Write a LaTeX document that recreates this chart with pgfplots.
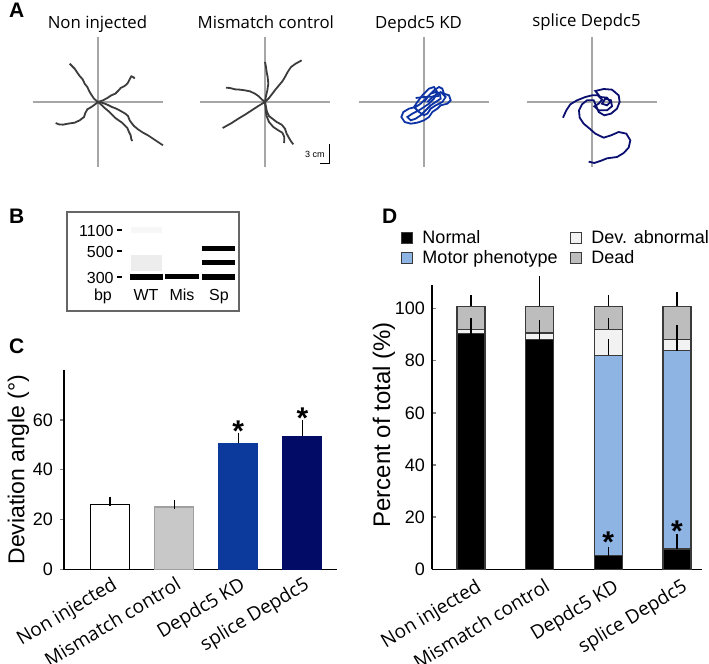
\documentclass[border=0pt]{standalone}
\usepackage{fontspec}
\setmainfont{Liberation Sans}
\newfontfamily\osans{Open Sans}
\usepackage{pgfplots}
\pgfplotsset{compat=1.18}

\definecolor{cross}{HTML}{A6A6A6}
\definecolor{trk}{HTML}{3C3C3C}
\definecolor{kdblue}{HTML}{0C33A3}
\definecolor{spblue}{HTML}{0A0F70}
\definecolor{cgray}{HTML}{C8C8C8}
\definecolor{cblue}{HTML}{0B3A9C}
\definecolor{cnavy}{HTML}{020B66}
\definecolor{motor}{HTML}{8DB4E2}
\definecolor{devab}{HTML}{F2F2F2}
\definecolor{dead}{HTML}{BDBDBD}
\definecolor{edge}{HTML}{3A3A3A}

\pgfplotsset{
  traj/.style={scale only axis, width=65pt, height=65pt, anchor=center,
    xmin=-195, xmax=195, ymin=-195, ymax=195, axis lines=center,
    axis line style={-, draw=cross, line width=0.6pt},
    xtick=\empty, ytick=\empty, clip=false},
  catlab/.style={rotate=31, anchor=north east, inner sep=0pt,
    font=\osans\fontsize{9.5}{11}\selectfont},
  cbar/.style={ybar, bar width=19.5pt, bar shift=0pt, line width=0.6pt,
    error bars/.cd, y dir=plus, y explicit,
    error bar style={black, line width=0.7pt},
    error mark options={black, line width=0.7pt, mark size=2.3pt}},
  dbar/.style={ybar, bar width=14pt, bar shift=0pt, draw=edge, line width=0.6pt, forget plot},
  derr/.style={draw=none, forget plot,
    error bars/.cd, y dir=plus, y explicit,
    error bar style={draw=black, line width=0.7pt},
    error mark options={draw=black, line width=0.7pt, mark size=2.5pt}},
}

\begin{document}
\begin{tikzpicture}
\useasboundingbox (0,0) rectangle (354.5pt,-332pt);

% ---------------- panel A: swimming traces
\node[anchor=base west, font=\bfseries\fontsize{10.5}{11}\selectfont] at (1pt,-9pt) {A};
\begin{scope}[font=\osans\fontsize{8.4}{10}\selectfont]
\node[anchor=base] at (48.75pt,-14pt) {Non injected};
\node[anchor=base] at (132.9pt,-14pt) {Mismatch control};
\node[anchor=base] at (209.25pt,-14.5pt) {Depdc5 KD};
\node[anchor=base] at (293.3pt,-13pt) {splice Depdc5};
\end{scope}

\begin{axis}[traj, at={(49pt,-51pt)}]
\addplot[trk, line width=0.9pt] coordinates {(0,0)(-12,10)(-20,22)(-26,32)(-32,45)(-40,55)(-46,68)(-55,78)(-62,88)(-70,100)(-76,106)(-85,115)};
\addplot[trk, line width=0.9pt] coordinates {(0,0)(15,5)(28,12)(40,20)(52,25)(62,35)(68,42)(80,48)(88,55)(92,62)(96,70)(100,77)(107,74)(110,70)};
\addplot[trk, line width=0.9pt] coordinates {(0,0)(-10,-8)(-20,-15)(-32,-22)(-38,-33)(-42,-45)(-55,-55)(-70,-62)(-90,-65)(-105,-68)(-118,-67)(-127,-63)};
\addplot[trk, line width=0.9pt] coordinates {(0,0)(15,-3)(28,-8)(42,-15)(55,-20)(70,-28)(82,-35)(90,-42)(95,-55)(100,-62)(108,-72)(120,-82)(135,-92)(150,-100)(165,-110)(180,-120)(195,-130)};
\addplot[trk, line width=0.9pt] coordinates {(0,0)(12,-10)(20,-18)(32,-28)(42,-38)(52,-48)(62,-55)(72,-62)(80,-70)(88,-78)(92,-88)(98,-100)(100,-112)(103,-117)};
\end{axis}

\begin{axis}[traj, at={(132.5pt,-51pt)}]
\addplot[trk, line width=0.9pt] coordinates {(0,0)(3,18)(7,35)(10,55)(8,75)(5,90)(3,105)(0,120)};
\addplot[trk, line width=0.9pt] coordinates {(0,0)(12,12)(22,25)(32,38)(42,50)(52,62)(60,75)(68,90)(78,105)(92,115)(110,125)};
\addplot[trk, line width=0.9pt] coordinates {(0,0)(-10,8)(-20,18)(-30,25)(-45,32)(-60,35)(-75,37)(-90,38)(-105,42)(-117,43)};
\addplot[trk, line width=0.9pt] coordinates {(0,0)(-20,-12)(-40,-25)(-60,-38)(-80,-50)(-100,-63)(-127,-78)};
\addplot[trk, line width=0.9pt] coordinates {(0,0)(3,-15)(6,-30)(12,-42)(22,-50)(35,-60)(50,-68)(60,-80)(65,-95)(72,-108)(78,-118)(85,-127)};
\addplot[trk, line width=0.9pt] coordinates {(0,0)(2,-20)(4,-40)(12,-60)(25,-75)(40,-85)(52,-92)(58,-105)(58,-115)(57,-123)};
% scale bar
\addplot[black, line width=0.5pt] coordinates {(165,-185)(192,-185)(192,-127)};
\node[anchor=east, font=\fontsize{4.5}{5}\selectfont, inner sep=1pt] at (axis cs:186,-157) {3 cm};
\end{axis}

\begin{axis}[traj, at={(212pt,-51pt)}]
\addplot[kdblue, line width=0.9pt] coordinates {(0,0)(15,20)(30,35)(45,45)(55,40)(60,25)(75,20)(80,5)(70,-5)(50,-10)(40,-20)(25,-30)(15,-45)(0,-55)(-20,-62)(-40,-65)(-58,-60)(-68,-45)(-62,-30)(-45,-20)(-25,-15)(-10,-5)(5,10)(20,25)(35,30)(48,22)(50,10)(35,0)(20,-10)(5,-25)(-10,-40)(-25,-50)(-40,-55)(-50,-45)(-35,-35)(-15,-25)(0,-15)(15,-5)(30,10)(40,30)(30,45)(15,40)(-5,20)(-20,0)(-30,-15)(-15,-30)(0,-40)(10,-35)(20,-20)(35,-10)(55,0)(65,15)(50,30)(25,15)(10,0)};
\addplot[kdblue, line width=0.9pt] coordinates {(-25,12)(0,15)(25,16)(45,18)};
\end{axis}

\begin{axis}[traj, at={(296pt,-51pt)}]
\addplot[spblue, line width=0.9pt] coordinates {(-87,-47)(-77,-25)(-65,-7)(-45,5)(-20,15)(0,20)(17,20)(30,7)(20,-5)(7,-13)(20,-25)(45,-25)(60,-13)(57,5)(40,10)(30,-5)(45,-10)(55,0)(45,13)(25,15)(10,33)(35,39)(60,37)(80,20)(83,0)(75,-20)(57,-35)(37,-40)(20,-30)(13,-13)(5,5)(-15,5)(-30,-7)(-39,-25)(-37,-47)(-25,-65)(-7,-80)(10,-95)(35,-107)(57,-100)(80,-90)(103,-95)(115,-115)(110,-137)(95,-153)(75,-165)(45,-169)(25,-177)(7,-183)(-10,-179)};
\end{axis}

% ---------------- panel B: gel
\node[anchor=base west, font=\bfseries\fontsize{10.5}{11}\selectfont] at (1pt,-111.5pt) {B};
\begin{axis}[at={(33.5pt,-155.5pt)}, anchor=south west, scale only axis,
  width=86pt, height=49.5pt, xmin=67, xmax=239, ymin=212, ymax=311, y dir=reverse,
  xtick=\empty, ytick=\empty, axis line style={draw=black!60, line width=0.6pt},
  clip=false, font=\fontsize{8}{9}\selectfont]
\addplot[black!3, line width=3pt] coordinates {(131,230)(162,230)};
\addplot[black!7, line width=8pt] coordinates {(131,263)(162,263)};
\addplot[black, line width=3pt] coordinates {(130,277)(163,277)};
\addplot[black, line width=2.5pt] coordinates {(165,277)(199,277)};
\addplot[black, line width=3pt] coordinates {(202,277)(235,277)};
\addplot[black, line width=2.5pt] coordinates {(202,263)(235,263)};
\addplot[black, line width=2.5pt] coordinates {(202,249)(235,249)};
\addplot[black, line width=0.6pt] coordinates {(117,230)(122,230)};
\addplot[black, line width=0.6pt] coordinates {(117,251)(122,251)};
\addplot[black, line width=0.6pt] coordinates {(117,277)(122,277)};
\node[anchor=east, inner sep=0pt] at (axis cs:114,230.5) {1100};
\node[anchor=east, inner sep=0pt] at (axis cs:114,251.5) {500};
\node[anchor=east, inner sep=0pt] at (axis cs:114,277.5) {300};
\node[anchor=base, inner sep=0pt] at (axis cs:103,300) {bp};
\node[anchor=base, inner sep=0pt] at (axis cs:146,300.5) {WT};
\node[anchor=base, inner sep=0pt] at (axis cs:182,300.5) {Mis};
\node[anchor=base, inner sep=0pt] at (axis cs:219,300.5) {Sp};
\end{axis}

% ---------------- panel C: deviation angle
\node[anchor=base west, font=\bfseries\fontsize{10.5}{11}\selectfont] at (1pt,-176.5pt) {C};
\begin{axis}[at={(32pt,-284.75pt)}, anchor=south west, scale only axis,
  width=136.5pt, height=99.75pt, xmin=-0.72, xmax=3.54, ymin=0, ymax=80,
  axis x line=bottom, axis y line=left, axis line style={-, line width=0.7pt},
  ytick={0,20,40,60}, tick align=outside, major tick length=2pt,
  ytick style={line width=0.7pt},
  xtick={0,1,2,3}, xtick style={draw=none},
  xticklabels={Non injected, Mismatch control, Depdc5 KD, splice Depdc5},
  x tick label style={xshift=0.3pt, yshift=-0.8pt, catlab},
  y tick label style={font=\fontsize{9}{10}\selectfont},
  /pgf/number format/assume math mode=true,
  ylabel={Deviation angle (°)},
  ylabel style={at={(axis description cs:-0.167,0.5)}, anchor=center,
    font=\fontsize{11.5}{12}\selectfont},
  clip=false]
\addplot[fill=white, draw=black, cbar] coordinates {(0,26.1) +- (0,1.3)};
\addplot[fill=cgray, draw=cgray!80!black, cbar] coordinates {(1,25.1) +- (0,1.0)};
\addplot[fill=cblue, draw=cblue, cbar] coordinates {(2,50.6) +- (0,2.4)};
\addplot[fill=cnavy, draw=cnavy, cbar] coordinates {(3,53.4) +- (0,4.8)};
\node[anchor=base, inner sep=0pt, font=\bfseries\fontsize{15}{15}\selectfont] at (axis cs:2,51.5) {*};
\node[anchor=base, inner sep=0pt, font=\bfseries\fontsize{15}{15}\selectfont] at (axis cs:3,56.5) {*};
\end{axis}

% ---------------- panel D: phenotype percentages
\node[anchor=base west, font=\bfseries\fontsize{10.5}{11}\selectfont] at (187.5pt,-111.5pt) {D};
\begin{axis}[at={(216pt,-284.65pt)}, anchor=south west, scale only axis,
  width=135pt, height=142.15pt, xmin=-0.568, xmax=3.364, ymin=0, ymax=109,
  axis x line=bottom, axis y line=left, axis line style={-, line width=0.7pt},
  ytick={0,20,40,60,80,100}, tick align=inside, major tick length=2pt,
  ytick style={line width=0.7pt},
  xtick={0,1,2,3}, xtick style={draw=none},
  xticklabels={Non injected, Mismatch control, Depdc5 KD, splice Depdc5},
  x tick label style={xshift=2pt, yshift=-4pt, catlab},
  y tick label style={font=\fontsize{9}{10}\selectfont},
  /pgf/number format/assume math mode=true,
  ylabel={Percent of total (\%)},
  ylabel style={at={(axis description cs:-0.178,0.508)}, anchor=center,
    font=\fontsize{12}{13}\selectfont},
  legend columns=2, legend cell align=left,
  legend style={at={(axis description cs:-0.14,1.215)}, anchor=north west,
    draw=none, fill=none, font=\fontsize{9}{10}\selectfont,
    nodes={inner sep=1pt},
    /tikz/every even column/.append style={column sep=5pt},
    row sep=0pt},
  legend image code/.code={\draw[#1, draw=edge, line width=0.5pt] (0pt,-2.8pt) rectangle (5.6pt,2.8pt); \path (9.5pt,0pt);},
  clip=false]
% legend order as in the figure
\addlegendimage{fill=black}\addlegendentry{Normal}
\addlegendimage{fill=devab}\addlegendentry{Dev. abnormal}
\addlegendimage{fill=motor}\addlegendentry{Motor phenotype}
\addlegendimage{fill=dead}\addlegendentry{Dead}
% bars drawn as cumulative heights, from the top segment down
\addplot[fill=dead, dbar] coordinates {(0,100.8)(1,100.8)(2,100.8)(3,100.8)};
\addplot[fill=devab, dbar] coordinates {(0,92.0)(1,90.6)(2,92.0)(3,88.1)};
\addplot[fill=motor, dbar] coordinates {(2,82.1)(3,83.8)};
\addplot[fill=black, dbar] coordinates {(0,90.4)(1,88.1)(2,5.2)(3,7.8)};
% upper error bars at each segment top
\addplot[derr] coordinates {(0,90.4) +- (0,1.9) (1,88.1) +- (0,3.4) (2,5.2) +- (0,1.3) (3,7.8) +- (0,3.8)};
\addplot[derr] coordinates {(2,82.1) +- (0,4.1) (3,83.8) +- (0,6.8)};
\addplot[derr] coordinates {(0,92.0) +- (0,2.3) (1,90.6) +- (0,3.0) (2,92.0) +- (0,2.4) (3,88.1) +- (0,3.6)};
\addplot[derr] coordinates {(0,100.8) +- (0,2.5) (1,100.8) +- (0,9.8) (2,100.8) +- (0,2.5) (3,100.8) +- (0,3.6)};
\node[anchor=base, inner sep=0pt, font=\bfseries\fontsize{15}{15}\selectfont] at (axis cs:2,6.5) {*};
\node[anchor=base, inner sep=0pt, font=\bfseries\fontsize{15}{15}\selectfont] at (axis cs:3,10.6) {*};
\end{axis}
\end{tikzpicture}
\end{document}
